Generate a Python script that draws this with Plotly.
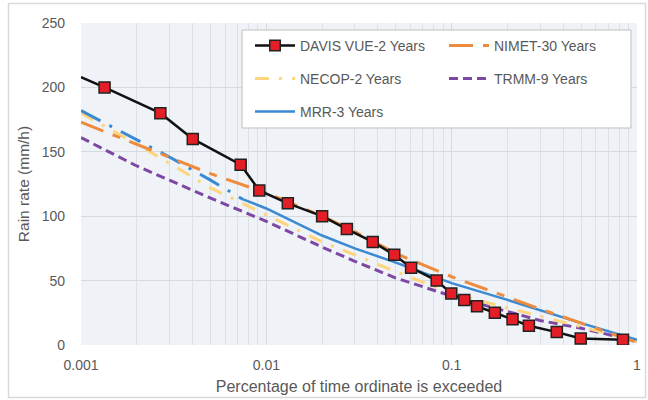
import plotly.graph_objects as go

# ---- data ----
davis_x = [0.001, 0.00134, 0.00268, 0.00401, 0.00727, 0.00916, 0.01306, 0.020, 0.0272, 0.0375, 0.049,
           0.0604, 0.083, 0.0995, 0.117, 0.137, 0.171, 0.213, 0.261, 0.369, 0.497, 0.84]
davis_y = [208, 200, 180, 160, 140, 120, 110, 100, 90, 80, 70,
           60, 50, 40, 35, 30, 25, 20, 15, 10, 5, 4]

curve_x = [0.001, 0.002, 0.003, 0.005, 0.01, 0.02, 0.03, 0.05, 0.1, 0.2, 0.3, 0.5, 1]
nimet_y = [173, 156, 146, 133, 118, 100, 88, 71, 53, 37, 28, 17, 2]
necop_y = [180, 156, 141, 122, 101, 80, 70, 57, 40, 29, 22, 14, 3]
trmm_y = [161, 139, 128, 114, 96, 76, 65, 52, 38, 26, 19, 13, 3]

mrr_ext_x = [0.001, 0.002, 0.003, 0.005, 0.0075]
mrr_ext_y = [182, 159, 146, 128, 113]
mrr_x = [0.0075, 0.01, 0.02, 0.03, 0.05, 0.1, 0.2, 0.3, 0.5, 1]
mrr_y = [113, 106, 85, 75, 64, 48, 35, 27, 17, 4]

x_ticks = [0.001, 0.01, 0.1, 1]
x_tick_labels = ["0.001", "0.01", "0.1", "1"]
y_ticks = [0, 50, 100, 150, 200, 250]

names = ["DAVIS VUE-2 Years", "NIMET-30 Years", "NECOP-2 Years", "TRMM-9 Years", "MRR-3 Years"]

# ---- style ----
ORANGE = "#ed8b3e"
YELLOW = "#fdd57d"
PURPLE = "#7d48a3"
BLUE = "#3a8ad3"
TXT = "#595959"
FONT = "Liberation Sans"

fig = go.Figure()

fig.add_trace(go.Scatter(x=curve_x, y=trmm_y, mode="lines", name=names[3],
                         line=dict(color=PURPLE, width=3, dash="9px,5px"), legend="legend4"))
fig.add_trace(go.Scatter(x=curve_x, y=necop_y, mode="lines", name=names[2],
                         line=dict(color=YELLOW, width=3, dash="14px,10px,3px,10px"), legend="legend3"))
fig.add_trace(go.Scatter(x=mrr_ext_x, y=mrr_ext_y, mode="lines", showlegend=False,
                         line=dict(color=BLUE, width=3, dash="22px,10px,3px,10px")))
fig.add_trace(go.Scatter(x=mrr_x, y=mrr_y, mode="lines", name=names[4],
                         line=dict(color=BLUE, width=2.5), legend="legend5"))
fig.add_trace(go.Scatter(x=curve_x, y=nimet_y, mode="lines", name=names[1],
                         line=dict(color=ORANGE, width=3, dash="24px,10px,8px,10px"), legend="legend2"))
sizes = [0] + [11] * (len(davis_x) - 1)
fig.add_trace(go.Scatter(x=davis_x, y=davis_y, mode="lines+markers", name=names[0],
                         line=dict(color="#111111", width=2.5),
                         marker=dict(symbol="square", size=sizes, color="#e41e26", opacity=1,
                                     line=dict(color="#222222", width=1.5)),
                         legend="legend"))

# legend frame
fig.add_shape(type="rect", xref="paper", yref="paper",
              x0=(242 - 81) / 556, x1=(631 - 81) / 556,
              y0=(345 - 128) / 322, y1=(345 - 30) / 322,
              fillcolor="white", line=dict(color="#bfbfbf", width=1), layer="above")
# outer chart border
fig.add_shape(type="rect", xref="paper", yref="paper",
              x0=(8.5 - 81) / 556, x1=(645.5 - 81) / 556,
              y0=(345 - 397.5) / 322, y1=(345 - 3.5) / 322,
              line=dict(color="#d9d9d9", width=1.5), layer="below")

def leg(px, py):
    return dict(x=(px - 81) / 556, y=(345 - py) / 322, xanchor="left", yanchor="middle",
                bgcolor="rgba(0,0,0,0)", borderwidth=0,
                font=dict(family=FONT, size=14, color=TXT), itemwidth=40)

fig.update_layout(
    width=648, height=400,
    margin=dict(l=81, r=11, t=23, b=55),
    paper_bgcolor="white", plot_bgcolor="#eff2f6",
    font=dict(family=FONT, size=14, color=TXT),
    legend=leg(250, 46), legend2=leg(444, 46), legend3=leg(250, 79),
    legend4=leg(444, 79), legend5=leg(250, 112),
    xaxis=dict(type="log", range=[-3, 0], tickvals=x_ticks, ticktext=x_tick_labels,
               automargin=False,
               showgrid=True, gridcolor="#d6d9de", gridwidth=1,
               minor=dict(showgrid=True, gridcolor="#dde0e5", ticks="", dtick="D1"),
               zeroline=False, showline=False, ticks="", ticklabelstandoff=10,
               title=dict(text="Percentage of time ordinate is exceeded", standoff=8,
                          font=dict(size=16, color=TXT)),
               tickfont=dict(size=14, color=TXT)),
    yaxis=dict(range=[0, 250], tickvals=y_ticks, showgrid=True, gridcolor="#d6d9de",
               automargin=False,
               zeroline=False, showline=False, ticks="", ticklabelstandoff=15,
               title=dict(text="Rain rate (mm/h)", standoff=8, font=dict(size=15.5, color=TXT)),
               tickfont=dict(size=14, color=TXT)),
)

fig.write_html("out.html", config={"displayModeBar": False},
               post_script="document.body.style.margin='0';")
